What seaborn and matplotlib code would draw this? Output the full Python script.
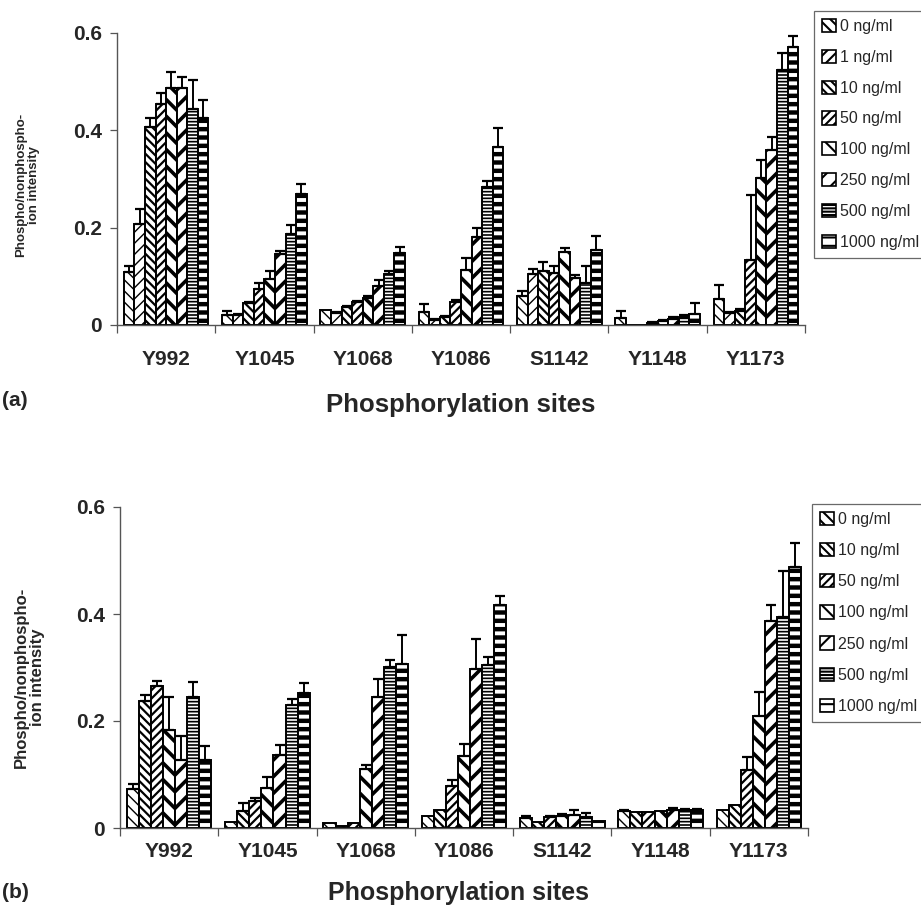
import numpy as np
import pandas as pd
import matplotlib
matplotlib.use('Agg')
import matplotlib.pyplot as plt
import matplotlib.patches as mpatches
import seaborn as sns

sites = ['Y992', 'Y1045', 'Y1068', 'Y1086', 'S1142', 'Y1148', 'Y1173']

# panel (a): values per dose, over the sites
doses_a = ['0 ng/ml', '1 ng/ml', '10 ng/ml', '50 ng/ml', '100 ng/ml',
           '250 ng/ml', '500 ng/ml', '1000 ng/ml']
vals_a = [
    [0.108, 0.021, 0.030, 0.027, 0.060, 0.014, 0.053],
    [0.208, 0.020, 0.025, 0.010, 0.105, 0.001, 0.024],
    [0.407, 0.045, 0.037, 0.017, 0.110, 0.001, 0.029],
    [0.454, 0.074, 0.047, 0.048, 0.107, 0.005, 0.134],
    [0.487, 0.094, 0.056, 0.113, 0.150, 0.008, 0.302],
    [0.487, 0.146, 0.080, 0.181, 0.096, 0.013, 0.360],
    [0.444, 0.187, 0.105, 0.284, 0.086, 0.017, 0.524],
    [0.425, 0.270, 0.147, 0.365, 0.154, 0.022, 0.572],
]
errs_a = [
    [0.013, 0.008, 0.000, 0.016, 0.010, 0.015, 0.029],
    [0.030, 0.003, 0.002, 0.002, 0.010, 0.000, 0.003],
    [0.018, 0.003, 0.002, 0.002, 0.020, 0.000, 0.003],
    [0.023, 0.012, 0.002, 0.003, 0.014, 0.001, 0.133],
    [0.033, 0.016, 0.003, 0.024, 0.008, 0.002, 0.038],
    [0.023, 0.006, 0.012, 0.019, 0.007, 0.004, 0.027],
    [0.059, 0.018, 0.005, 0.012, 0.035, 0.003, 0.034],
    [0.037, 0.020, 0.013, 0.040, 0.029, 0.024, 0.022],
]

# panel (b)
doses_b = ['0 ng/ml', '10 ng/ml', '50 ng/ml', '100 ng/ml',
           '250 ng/ml', '500 ng/ml', '1000 ng/ml']
vals_b = [
    [0.073, 0.012, 0.010, 0.023, 0.018, 0.032, 0.034],
    [0.237, 0.032, 0.004, 0.034, 0.012, 0.029, 0.043],
    [0.265, 0.051, 0.010, 0.079, 0.020, 0.029, 0.108],
    [0.183, 0.075, 0.110, 0.135, 0.022, 0.032, 0.210],
    [0.127, 0.137, 0.244, 0.297, 0.024, 0.033, 0.387],
    [0.245, 0.230, 0.301, 0.304, 0.020, 0.034, 0.395],
    [0.127, 0.252, 0.306, 0.417, 0.014, 0.034, 0.487],
]
errs_b = [
    [0.010, 0.000, 0.000, 0.000, 0.005, 0.001, 0.000],
    [0.012, 0.014, 0.000, 0.000, 0.000, 0.000, 0.000],
    [0.010, 0.006, 0.000, 0.011, 0.002, 0.000, 0.025],
    [0.062, 0.020, 0.008, 0.022, 0.004, 0.000, 0.045],
    [0.045, 0.018, 0.035, 0.056, 0.010, 0.005, 0.030],
    [0.027, 0.011, 0.013, 0.016, 0.008, 0.002, 0.085],
    [0.026, 0.019, 0.054, 0.017, 0.000, 0.002, 0.045],
]

# hatch and hatch line width per dose
hatch_style = {
    '0 ng/ml': ('\\\\\\', 1.0),
    '1 ng/ml': ('///', 1.0),
    '10 ng/ml': ('\\\\\\\\', 1.6),
    '50 ng/ml': ('////', 1.6),
    '100 ng/ml': ('\\\\', 2.6),
    '250 ng/ml': ('//', 2.6),
    '500 ng/ml': ('-----', 1.2),
    '1000 ng/ml': ('--', 3.2),
}

sns.set_style('white')
plt.rcParams['font.family'] = ['Liberation Sans', 'DejaVu Sans']
plt.rcParams['hatch.linewidth'] = 1.5
plt.rcParams['hatch.color'] = 'black'


def long_table(doses, vals):
    rows = []
    for d, v in zip(doses, vals):
        for s, y in zip(sites, v):
            rows.append({'site': s, 'dose': d, 'value': y})
    return pd.DataFrame(rows)


def draw_panel(ax, doses, vals, errs, label_pad):
    data = long_table(doses, vals)
    sns.barplot(data=data, x='site', y='value', hue='dose', order=sites,
                hue_order=doses, palette={d: 'white' for d in doses},
                errorbar=None, width=0.86, saturation=1, legend=False,
                edgecolor='black', linewidth=1.4, ax=ax)
    for d, cont, e in zip(doses, ax.containers, errs):
        h, lw = hatch_style[d]
        xs, ys, es = [], [], []
        for bar, err in zip(cont.patches, e):
            bar.set_hatch(h)
            if hasattr(bar, 'set_hatch_linewidth'):
                bar.set_hatch_linewidth(lw)
            if err > 0:
                xs.append(bar.get_x() + bar.get_width() / 2)
                ys.append(bar.get_height())
                es.append(err)
        if xs:
            ax.errorbar(xs, ys, yerr=[np.zeros(len(es)), es], fmt='none',
                        ecolor='black', elinewidth=1.4, capsize=3.5,
                        capthick=1.6, zorder=3)
    ax.set_ylim(0, 0.6)
    ax.set_xlim(-0.5, len(sites) - 0.5)
    ax.set_yticks([0, 0.2, 0.4, 0.6])
    ax.set_yticklabels(['0', '0.2', '0.4', '0.6'], fontsize=15, fontweight='bold')
    ax.set_xticks(np.arange(len(sites) + 1) - 0.5)
    ax.set_xticklabels([])
    ax.set_xticks(np.arange(len(sites)), minor=True)
    ax.set_xticklabels(sites, minor=True, fontsize=15, fontweight='bold')
    ax.tick_params(axis='x', which='minor', length=0, pad=label_pad)
    ax.tick_params(axis='x', which='major', length=6, width=0.9,
                   color='#555555', direction='out', bottom=True)
    ax.tick_params(axis='y', length=5, width=0.9, color='#555555',
                   direction='out', left=True, pad=6)
    ax.set_xlabel('')
    ax.set_ylabel('')
    for side in ['top', 'right']:
        ax.spines[side].set_visible(False)
    for side in ['left', 'bottom']:
        ax.spines[side].set_color('#555555')
        ax.spines[side].set_linewidth(1.0)


def add_legend(fig, doses, x, y, spacing):
    handles = [mpatches.Patch(facecolor='white', edgecolor='black',
                              hatch=hatch_style[d][0], linewidth=1.2)
               for d in doses]
    leg = fig.legend(handles, doses, loc='upper left', bbox_to_anchor=(x, y),
                     frameon=True, fontsize=11.5, handlelength=0.9,
                     handleheight=0.9, handletextpad=0.25,
                     labelspacing=spacing, borderpad=0.5, borderaxespad=0,
                     fancybox=False)
    leg.get_frame().set_edgecolor('#444444')
    leg.get_frame().set_linewidth(0.9)
    return leg


W, H = 921, 915
fig = plt.figure(figsize=(W / 100, H / 100), dpi=100)

ax_a = fig.add_axes([117 / W, 1 - 325 / H, (805 - 117) / W, 292 / H])
draw_panel(ax_a, doses_a, vals_a, errs_a, label_pad=18)
ax_b = fig.add_axes([120 / W, 1 - 828 / H, (808 - 120) / W, 321 / H])
draw_panel(ax_b, doses_b, vals_b, errs_b, label_pad=10)

add_legend(fig, doses_a, 814 / W, 1 - 11 / H, 0.98)
add_legend(fig, doses_b, 812 / W, 1 - 504 / H, 1.0)

fig.text(28 / W, 1 - 185 / H, 'Phospho/nonphospho-\nion intensity', rotation=90,
         ha='center', va='center', fontsize=9.5, fontweight='bold',
         linespacing=1.1)
fig.text(29 / W, 1 - 677 / H, 'Phospho/nonphospho-\nion intensity', rotation=90,
         ha='center', va='center', fontsize=12, fontweight='bold',
         linespacing=1.1)

fig.text(461 / W, 1 - 405 / H, 'Phosphorylation sites', ha='center',
         va='center', fontsize=18.5, fontweight='bold')
fig.text(458 / W, 1 - 893 / H, 'Phosphorylation sites', ha='center',
         va='center', fontsize=18, fontweight='bold')
fig.text(2 / W, 1 - 400 / H, '(a)', ha='left', va='center', fontsize=15,
         fontweight='bold')
fig.text(2 / W, 1 - 893 / H, '(b)', ha='left', va='center', fontsize=15,
         fontweight='bold')

fig.savefig('out.png', dpi=100)
